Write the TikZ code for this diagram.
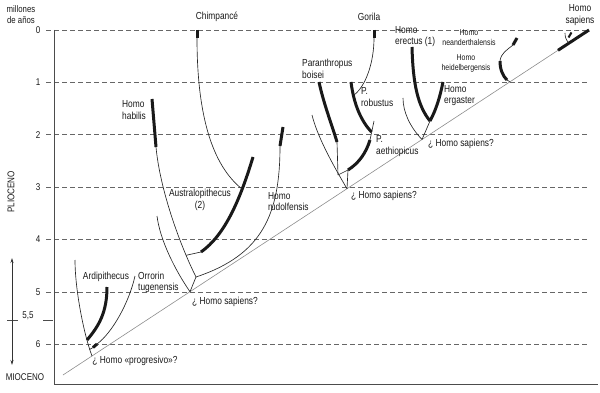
\documentclass[tikz,border=0pt]{standalone}
\usepackage{fontspec}
\setmainfont{Liberation Sans}[FakeStretch=0.82]
\usetikzlibrary{arrows.meta}
\newcommand\lblfont{\fontsize{10.2}{11.5}\selectfont}
\newcommand\mysmallfont{\fontsize{8.5}{10}\selectfont}
\newcommand\mynumfont{\fontsize{9.8}{11}\selectfont}
\begin{document}
\begin{tikzpicture}[x=1pt,y=-1pt,
  br/.style={line width=0.65pt, draw=black!85},
  thk/.style={line width=3pt, draw=black!90},
  gridline/.style={line width=0.7pt, draw=black!60, dash pattern=on 5pt off 3pt},
  diag/.style={line width=0.6pt, draw=black!45},
  axisline/.style={line width=0.8pt, draw=black!70},
  lbl/.style={font=\lblfont, inner sep=0pt, align=left, anchor=west, text=black!90},
  clbl/.style={font=\lblfont, inner sep=0pt, align=center, text=black!90},
  slbl/.style={font=\mysmallfont, inner sep=0pt, align=center, text=black!90},
  num/.style={font=\mynumfont, inner sep=0pt, text=black!90}]
\useasboundingbox (0,0) rectangle (600,393);
% grid lines and numbers
\foreach \t in {0,...,6}{
  \coordinate (gl\t) at (46,30+52.4*\t);
  \coordinate (gr\t) at (588,30+52.4*\t);
  \draw[gridline] (gl\t) -- (gr\t);
  \node[num] (n\t) at (38,30+52.4*\t) {\t};
}
\node[num] (n55) at (28,316) {5,5};
\coordinate (tA) at (7,320); \coordinate (tB) at (18,320);
\coordinate (tC) at (43,320); \coordinate (tD) at (53,320);
\draw[axisline] (tA) -- (tB);
\draw[axisline] (tC) -- (tD);
% axes
\coordinate (ax0) at (54,30); \coordinate (ax1) at (54,384); \coordinate (ax2) at (598,384);
\draw[axisline] (ax0) -- (ax1) -- (ax2);
% epoch arrow
\coordinate (ar0) at (12,258); \coordinate (ar1) at (12,365);
\draw[line width=0.7pt, black!80, {Stealth[length=5pt,width=3pt]}-{Stealth[length=5pt,width=3pt]}] (ar0) -- (ar1);
\node[num, rotate=90] (plio) at (11,192) {PLIOCENO};
\node[num] (mio) at (25,377) {MIOCENO};
\node[num, align=center, font=\fontsize{9.5}{11}\selectfont] (mill) at (21,15) {millones\\de años};
% main diagonal (Homo sapiens lineage)
\coordinate (d0) at (63,375);
\coordinate (sapB) at (558,50.3);
\coordinate (sapT) at (589,30);
\draw[diag] (d0) -- (sapB);
\draw[thk] (sapB) -- (sapT);
\coordinate (sJ) at (569,43.1);
\coordinate (sb1) at (565,33);
\coordinate (sb2) at (568.5,37.5);
\coordinate (sb3) at (571.5,32.5);
\draw[br] (sJ) .. controls (566,40) and (565,37) .. (sb1);
\draw[thk, line width=2pt] (sb2) -- (sb3);
% ---- group 1 (Mioceno)
\coordinate (N1) at (92,356);
\coordinate (ao) at (75,260);
\draw[br] (N1) .. controls (84,335) and (75,290) .. (ao);
\coordinate (ardT) at (107,287); \coordinate (ardB) at (87,340);
\draw[thk] (ardT) .. controls (107,312) and (99,326) .. (ardB);
\coordinate (orT) at (135,276); \coordinate (orB) at (97,344);
\coordinate (orC) at (93,347.5); \coordinate (orJ) at (89.6,349.5);
\draw[br] (orT) .. controls (129,303) and (112,333) .. (orB);
\draw[thk] (orB) -- (orC);
\draw[br] (orC) -- (orJ);
% ---- group 2
\coordinate (N2) at (190,291.7);
\coordinate (J2) at (196,277);
\coordinate (c2) at (157,216);
\draw[br] (N2) .. controls (175,270) and (160,240) .. (c2);
\draw[br] (N2) -- (J2);
\coordinate (habB) at (156,147); \coordinate (habT) at (152,99);
\draw[br] (J2) .. controls (180,245) and (160,190) .. (habB);
\draw[thk] (habB) -- (habT);
\coordinate (hj) at (186.1,255.3);
\coordinate (auT) at (253,157); \coordinate (auB) at (201,252);
\draw[thk] (auT) .. controls (240,200) and (225,235) .. (auB);
\draw[br] (auB) -- (hj);
\coordinate (chT) at (197,30); \coordinate (chB) at (197,38); \coordinate (chJ) at (242,189);
\draw[thk] (chT) -- (chB);
\draw[br] (chB) .. controls (197,115) and (212,165) .. (chJ);
\coordinate (ruT) at (283,127); \coordinate (ruB) at (280,146);
\draw[thk] (ruT) -- (ruB);
\draw[br] (ruB) .. controls (280,215) and (262,255) .. (J2);
% ---- group 3
\coordinate (N3) at (347,188.7);
\coordinate (o3) at (312,115);
\draw[br] (N3) .. controls (330,160) and (317,135) .. (o3);
\coordinate (boT) at (319,82); \coordinate (boB) at (337,142); \coordinate (boJ) at (338,175);
\draw[thk] (boT) .. controls (324,105) and (332,125) .. (boB);
\draw[br] (boB) -- (boJ);
\coordinate (aeT) at (370,140); \coordinate (aeB) at (348,170);
\draw[thk] (aeT) .. controls (366,153) and (359,163) .. (aeB);
\draw[br] (boJ) -- (aeB);
\draw[br] (aeB) -- (N3);
\coordinate (tail) at (374,121);
\draw[br] (aeT) -- (tail);
\coordinate (roT) at (351,82); \coordinate (roB) at (371.5,132);
\draw[thk] (roT) .. controls (354,106) and (362,122) .. (roB);
\coordinate (goT) at (374,30); \coordinate (goB) at (374,38); \coordinate (goJ) at (354,95);
\draw[thk] (goT) -- (goB);
\draw[br] (goB) .. controls (374,62) and (366,86) .. (goJ);
% ---- group 4
\coordinate (N4) at (422,139.5);
\coordinate (o4) at (403,98);
\draw[br] (N4) .. controls (410,127) and (403,112) .. (o4);
\coordinate (erT) at (412,47); \coordinate (erB) at (430,121);
\draw[thk] (erT) .. controls (413,85) and (418,106) .. (erB);
\coordinate (egT) at (443,82);
\draw[thk] (egT) .. controls (440,97) and (436,110) .. (erB);
\draw[br] (erB) -- (N4);
% ---- group 5
\coordinate (N5) at (510,81.8);
\coordinate (heT) at (500,61); \coordinate (heB) at (507,80);
\draw[thk] (heT) .. controls (500,70) and (503,76) .. (heB);
\draw[br] (heB) -- (N5);
\coordinate (neT) at (517,38); \coordinate (neB) at (513,45);
\draw[thk] (neT) -- (neB);
\draw[br] (neB) .. controls (507,50) and (501,53) .. (heT);
% ---- labels
\node[clbl] (lchimp) at (217,17) {Chimpancé};
\node[clbl] (lgor) at (369,17) {Gorila};
\node[clbl] (lsap) at (580,15) {Homo\\sapiens};
\node[lbl] (lhab) at (122,110) {Homo\\habilis};
\node[clbl] (laus) at (200,200) {Australopithecus\\(2)};
\node[lbl] (lrud) at (268,201.5) {Homo\\rudolfensis};
\node[lbl] (lpb) at (302,69) {Paranthropus\\boisei};
\node[lbl] (lpr) at (361,97) {P.\\robustus};
\node[lbl] (lpa) at (376,146) {P.\\aethiopicus};
\node[lbl] (lere) at (395,36.5) {Homo\\erectus (1)};
\node[lbl] (lerg) at (444,95.5) {Homo\\ergaster};
\node[slbl] (lnea) at (469,38) {Homo\\neanderthalensis};
\node[slbl] (lhei) at (466,63) {Homo\\heidelbergensis};
\node[clbl] (lard) at (106,277) {Ardipithecus};
\node[lbl] (lorr) at (138,282.5) {Orrorin\\tugenensis};
\node[clbl] (lq1) at (135,361) {¿ Homo «progresivo»?};
\node[lbl] (lq2) at (192,302) {¿ Homo sapiens?};
\node[lbl] (lq3) at (351,196) {¿ Homo sapiens?};
\node[lbl] (lq4) at (428,144) {¿ Homo sapiens?};
\end{tikzpicture}
\end{document}
